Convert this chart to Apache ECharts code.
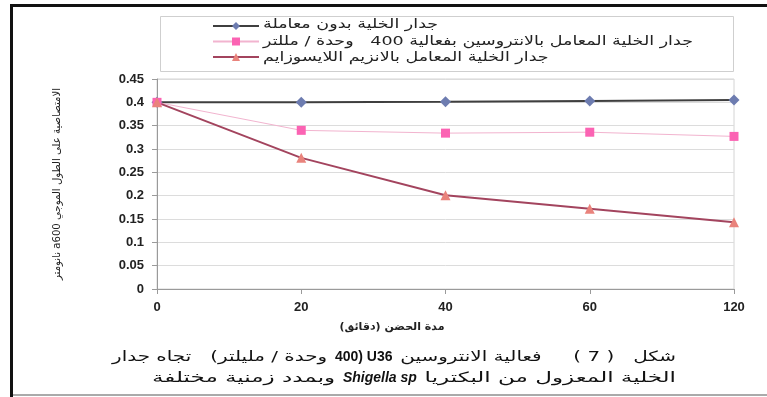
<!DOCTYPE html>
<html>
<head>
<meta charset="utf-8">
<script src="https://cdn.jsdelivr.net/npm/echarts@6/dist/echarts.min.js"></script>
<style>
  html, body { margin: 0; padding: 0; background: #fff; }
  #chart { width: 767px; height: 397px; }
</style>
</head>
<body>
<div id="chart"></div>
<script>
// RTL embedding so Arabic text with numbers keeps its order
const rtl = s => '\u202B' + s + '\u202C';

const minutes = ['0', '20', '40', '60', '120'];
const untreated = [0.4, 0.4, 0.401, 0.403, 0.405];
const enterocin = [0.4, 0.34, 0.334, 0.336, 0.327];
const lysozyme = [0.4, 0.281, 0.201, 0.172, 0.143];

const names = [
  'جدار الخلية بدون معاملة',
  'جدار الخلية المعامل بالانتروسين بفعالية 400   وحدة / مللتر',
  'جدار الخلية المعامل بالانزيم اللايسوزايم'
];

const FONT = '"Liberation Sans", "DejaVu Sans", sans-serif';
const AR = '"DejaVu Sans", sans-serif';

// measure text so the wide Arabic lettering of the original can be matched
const mctx = document.createElement('canvas').getContext('2d');
function measure(str, font) { mctx.font = font; return mctx.measureText(str).width; }

// lay out tokens (visual order, left to right) between left and right,
// stretching only the Arabic tokens
function line(tokens, left, right, y) {
  let fixed = 0, stretch = 0;
  tokens.forEach(t => {
    t.w = measure(t.text, t.font);
    if (t.ar) stretch += t.w; else fixed += t.w;
  });
  const s = (right - left - fixed) / stretch;
  let x = left;
  return tokens.map(t => {
    const sx = t.ar ? s : 1;
    const el = {
      type: 'text', x: x, y: y, scaleX: sx, silent: true,
      style: { text: t.text, font: t.font, fill: '#111', align: 'left', verticalAlign: 'middle' }
    };
    x += t.w * sx;
    return el;
  });
}

const capA = '14px ' + AR;
const capB = 'bold 14px ' + FONT;
const capI = 'italic bold 14px ' + FONT;

const caption1 = line([
  { text: rtl('وحدة / مليلتر)   تجاه جدار'), font: capA, ar: true },
  { text: '  400) U36  ', font: capB },
  { text: rtl('شكل   ( 7 )     فعالية الانتروسين'), font: capA, ar: true }
], 112, 676, 357);

const caption2 = line([
  { text: rtl('وبمدد زمنية مختلفة'), font: capA, ar: true },
  { text: '  Shigella sp  ', font: capI },
  { text: rtl('الخلية المعزول من البكتريا'), font: capA, ar: true }
], 152, 676, 378);

// legend labels: one stretch factor for all rows, taken from the longest row
const legFont = '13px ' + AR;
const legendRows = [25, 42, 58];
const legScale = (693 - 263) / measure(rtl(names[1]), legFont);
const legendLabels = names.map((n, i) => ({
  type: 'text', x: 263, y: legendRows[i], scaleX: legScale, silent: true,
  style: { text: rtl(n), font: legFont, fill: '#222', align: 'left', verticalAlign: 'middle' }
}));

const yTitleFont = '11px ' + AR;
const yTitle = rtl('الامتصاصية على الطول الموجي a600 نانومتر');

const chart = echarts.init(document.getElementById('chart'), null, { renderer: 'canvas' });

chart.setOption({
  animation: false,
  backgroundColor: '#fff',
  grid: {
    left: 157, right: 33, top: 79, bottom: 108,
    show: true, borderColor: '#d4d4d4', borderWidth: 1
  },
  legend: {
    orient: 'vertical',
    left: 207, top: 16,
    itemWidth: 46, itemHeight: 10, itemGap: 6.5,
    formatter: () => '',
    textStyle: { fontSize: 1 },
    data: names.map(rtl)
  },
  xAxis: {
    type: 'category',
    data: minutes,
    boundaryGap: false,
    axisLine: { lineStyle: { color: '#9a9a9a' } },
    axisTick: { show: true, length: 5, lineStyle: { color: '#9a9a9a' } },
    axisLabel: { margin: 12, fontFamily: FONT, fontWeight: 'bold', fontSize: 13, color: '#222' }
  },
  yAxis: {
    type: 'value',
    min: 0, max: 0.45, interval: 0.05,
    axisLine: { show: true, lineStyle: { color: '#9a9a9a' } },
    axisTick: { show: true, length: 5, lineStyle: { color: '#9a9a9a' } },
    splitLine: { lineStyle: { color: '#dcdcdc' } },
    axisLabel: { margin: 13, fontFamily: FONT, fontWeight: 'bold', fontSize: 13, color: '#222' }
  },
  series: [
    {
      name: rtl(names[0]), type: 'line', data: untreated,
      symbol: 'diamond', symbolSize: 11,
      lineStyle: { color: '#3f3f3f', width: 2 },
      itemStyle: { color: '#6d7cb0' }
    },
    {
      name: rtl(names[1]), type: 'line', data: enterocin,
      symbol: 'rect', symbolSize: 9,
      lineStyle: { color: '#f2b4cf', width: 1 },
      itemStyle: { color: '#fb63b3' }
    },
    {
      name: rtl(names[2]), type: 'line', data: lysozyme,
      symbol: 'triangle', symbolSize: 10,
      lineStyle: { color: '#a3445e', width: 2 },
      itemStyle: { color: '#e9837c' }
    }
  ],
  graphic: [
    // outer frame
    { type: 'rect', shape: { x: 10, y: 4, width: 770, height: 3 }, style: { fill: '#111' }, silent: true },
    { type: 'rect', shape: { x: 10, y: 4, width: 3, height: 400 }, style: { fill: '#111' }, silent: true },
    { type: 'rect', shape: { x: 13, y: 394, width: 760, height: 2 }, style: { fill: '#aaa' }, silent: true },
    // legend box
    { type: 'rect', shape: { x: 160.5, y: 16.5, width: 573, height: 55 },
      style: { fill: 'none', stroke: '#cfcfcf', lineWidth: 1 }, silent: true },
    ...legendLabels,
    // y axis title
    { type: 'text', x: 57, y: 184, rotation: Math.PI / 2,
      scaleX: 192 / measure(yTitle, yTitleFont),
      style: { text: yTitle, font: yTitleFont,
        fill: '#222', align: 'center', verticalAlign: 'middle' } },
    // x axis title
    { type: 'text', x: 392, y: 327,
      style: { text: rtl('مدة الحضن (دقائق)'), font: 'bold 11px ' + AR,
        fill: '#222', align: 'center', verticalAlign: 'middle' } },
    ...caption1,
    ...caption2
  ]
});
</script>
</body>
</html>
